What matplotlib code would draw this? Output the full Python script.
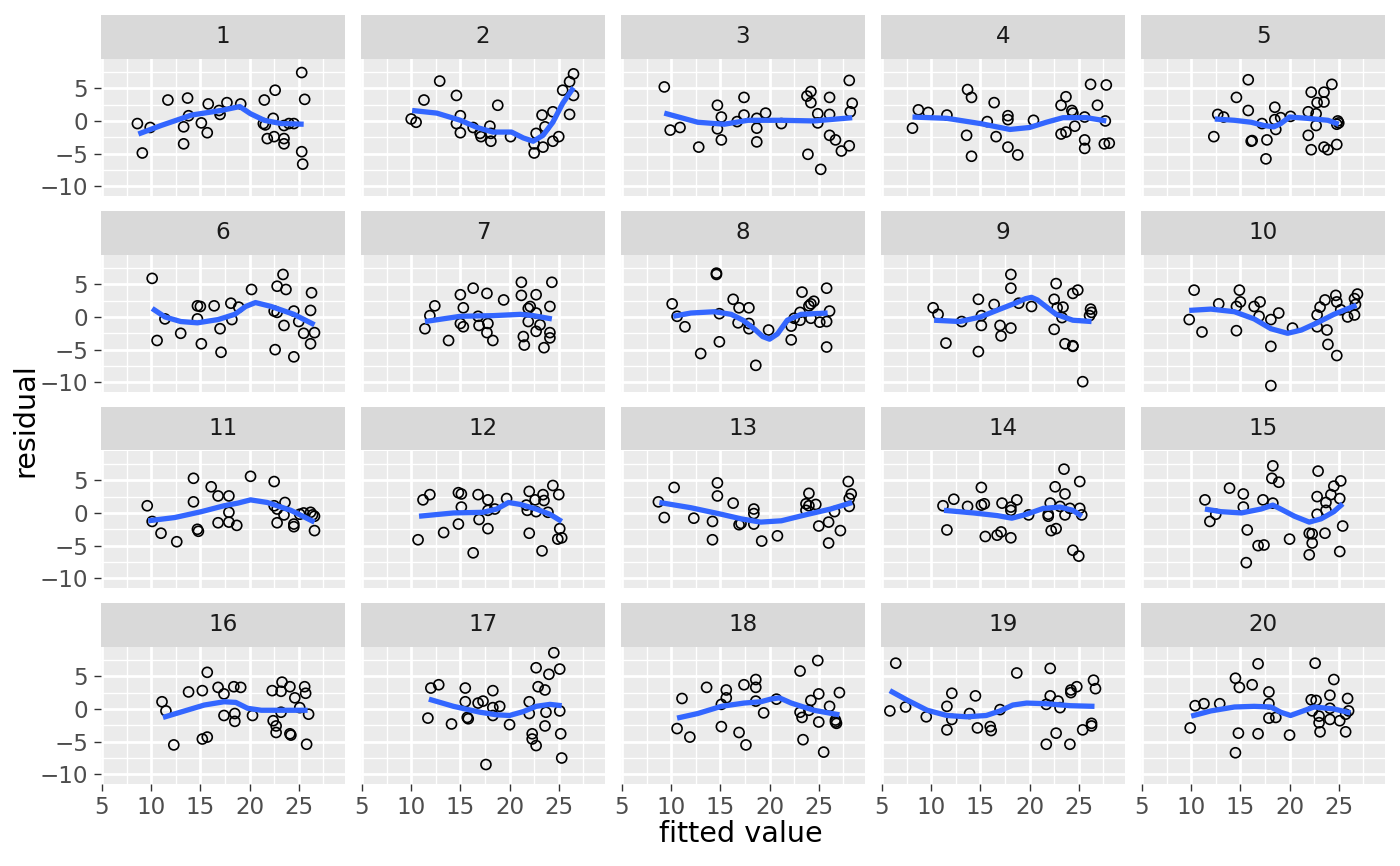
import matplotlib
matplotlib.use("Agg")
import matplotlib.pyplot as plt

# fitted / residual per panel
fit1 = [8.6, 9.1, 9.9, 11.7, 13.3, 13.3, 13.7, 13.8, 15.1, 15.7, 15.8, 16.9, 17.0, 17.7, 19.1, 21.5, 21.4, 21.8, 22.4, 22.6, 22.5, 23.5, 23.5, 23.5, 24.0, 24.5, 25.3, 25.6, 25.3, 25.4, 21.6]
res1 = [-0.4, -4.9, -1.0, 3.2, -0.9, -3.5, 3.5, 0.8, -0.3, -1.8, 2.6, 1.6, 1.0, 2.8, 2.6, 3.2, -0.4, -2.7, 0.4, 4.7, -2.4, -0.7, -2.7, -3.5, -0.4, -0.4, 7.4, 3.3, -4.7, -6.6, -0.6]
fit2 = [10.0, 10.5, 11.3, 12.9, 14.6, 15.0, 14.6, 15.0, 16.3, 17.0, 17.1, 18.0, 18.1, 18.1, 18.8, 20.1, 22.5, 22.5, 22.7, 23.3, 23.4, 23.6, 24.4, 24.4, 25.0, 25.4, 26.1, 26.5, 26.5, 26.1]
res2 = [0.3, -0.2, 3.2, 6.1, 3.9, 0.8, -0.4, -1.8, -1.0, -1.9, -2.4, -0.8, -1.9, -3.1, 2.4, -2.4, -3.5, -4.9, -1.9, 0.9, -4.0, -0.9, 1.4, -3.1, -2.4, 4.7, 6.0, 7.2, 3.9, 1.0]
fit3 = [9.3, 9.9, 10.9, 12.8, 14.7, 14.7, 15.1, 15.1, 16.7, 17.4, 17.4, 18.7, 18.7, 18.7, 19.6, 21.2, 23.8, 24.2, 24.2, 23.9, 24.9, 24.9, 25.2, 26.1, 26.1, 26.1, 26.7, 27.3, 28.1, 28.1, 28.4, 28.2]
res3 = [5.2, -1.4, -1.0, -4.0, 2.4, -1.2, 0.6, -2.9, -0.1, 3.6, 0.9, 0.4, -1.1, -3.2, 1.2, -0.4, 3.8, 4.5, 2.8, -5.1, 1.1, -0.3, -7.4, 3.6, 1.0, -2.2, -2.9, -4.6, -3.8, 6.2, 2.7, 1.4]
fit4 = [8.1, 8.7, 9.7, 11.6, 13.7, 14.1, 13.6, 14.1, 15.7, 16.4, 16.6, 17.8, 17.8, 17.8, 18.8, 20.4, 23.2, 23.7, 23.2, 23.7, 24.3, 24.4, 24.6, 25.6, 25.6, 25.6, 26.2, 26.9, 27.8, 27.7, 27.6, 28.1]
res4 = [-1.1, 1.7, 1.3, 0.9, 4.8, 3.6, -2.2, -5.4, -0.1, 2.8, -2.4, 0.8, 0.2, -4.0, -5.2, 0.1, 2.4, 3.7, -2.0, -1.7, 1.6, 1.2, -0.8, 0.6, -2.9, -4.2, 5.6, 2.4, 5.5, 0.0, -3.5, -3.4]
fit5 = [12.3, 12.7, 13.3, 14.6, 15.8, 15.8, 16.1, 16.2, 17.2, 17.7, 17.6, 18.5, 18.5, 18.6, 19.1, 20.1, 21.9, 21.9, 22.2, 22.2, 22.7, 22.8, 22.7, 23.5, 23.5, 23.5, 23.9, 24.3, 24.8, 24.9, 25.0, 24.8]
res5 = [-2.4, 1.0, 0.6, 3.6, 6.3, 1.6, -3.1, -3.0, -0.4, -2.9, -5.8, 2.1, 0.2, -1.3, 0.5, 0.7, 1.4, -2.2, 4.4, -4.4, 1.1, 2.8, -0.7, 2.9, 4.4, -4.0, -4.4, 5.6, -3.6, 0.0, -0.3, -0.5]
fit6 = [10.1, 11.4, 10.6, 13.0, 14.7, 15.0, 14.7, 15.1, 16.4, 17.0, 17.1, 18.1, 18.2, 18.9, 20.2, 22.5, 22.8, 22.8, 23.4, 23.7, 23.5, 22.6, 24.5, 24.5, 25.0, 25.5, 26.2, 26.3, 26.2, 26.6]
res6 = [5.9, -0.3, -3.6, -2.5, 1.7, 1.6, -0.3, -4.1, 1.7, -1.8, -5.4, 2.1, -0.4, 1.5, 4.2, 0.9, 0.7, 4.7, 6.5, 4.2, -1.3, -5.0, 0.9, -6.1, -0.7, -2.5, 1.0, 3.7, -4.1, -2.4]
fit7 = [11.4, 11.9, 12.4, 13.8, 15.0, 15.3, 15.0, 15.3, 16.3, 16.8, 16.9, 17.7, 17.8, 17.7, 18.3, 19.4, 21.2, 21.2, 21.4, 21.5, 21.9, 22.1, 21.9, 22.7, 22.7, 23.1, 22.7, 24.1, 24.3, 24.1, 24.1, 23.5]
res7 = [-1.8, 0.2, 1.7, -3.6, 3.4, 1.4, -1.0, -1.5, 4.4, 0.1, -1.3, 3.6, -1.0, -2.4, -3.6, 2.6, 5.3, 3.3, -3.0, -4.3, 1.3, 1.6, -0.7, 3.4, 0.6, -1.2, -2.2, 1.6, 5.3, -2.4, -3.2, -4.7]
fit8 = [10.1, 10.6, 11.4, 13.0, 14.6, 14.6, 14.9, 14.9, 16.3, 16.9, 16.8, 17.9, 17.9, 17.9, 18.6, 19.9, 22.2, 22.2, 22.5, 23.1, 23.1, 23.3, 24.0, 24.2, 24.5, 24.2, 25.1, 25.8, 26.1, 25.8, 25.8]
res8 = [2.0, 0.1, -1.5, -5.6, 6.7, 6.5, 0.5, -3.8, 2.7, 1.4, -0.9, 1.4, -1.0, -1.8, -7.4, -2.0, -3.5, -1.4, -0.2, -0.5, 0.7, 3.8, 1.7, 2.0, 2.4, -0.2, -0.8, 4.4, 0.9, -0.7, -4.6]
fit9 = [10.2, 10.7, 11.5, 13.1, 14.8, 15.1, 15.1, 14.8, 16.4, 17.0, 17.1, 18.1, 18.1, 18.1, 18.9, 20.2, 22.7, 22.5, 22.5, 22.8, 23.4, 23.3, 23.6, 24.4, 24.4, 24.4, 24.9, 25.4, 26.2, 26.3, 26.1]
res9 = [1.4, 0.4, -4.0, -0.7, 2.7, 0.2, -1.3, -5.3, 1.9, -1.3, -2.9, 6.5, 4.4, -1.7, 2.1, 1.6, 5.1, 2.7, -1.9, 1.4, 1.5, -0.1, -4.1, -4.4, -4.5, 3.6, 4.1, -9.9, 1.2, 0.7, 0.2]
fit10 = [9.8, 10.3, 11.1, 12.8, 14.6, 15.0, 14.9, 14.6, 16.4, 17.0, 16.9, 18.1, 18.9, 18.1, 18.1, 20.3, 22.8, 22.8, 23.1, 23.6, 23.8, 23.9, 24.8, 24.7, 24.8, 25.2, 25.9, 26.6, 26.6, 26.9, 26.7]
res10 = [-0.4, 4.1, -2.3, 2.0, 1.6, 2.3, 4.1, -2.1, 1.6, 2.3, 0.1, -0.4, 0.6, -4.5, -10.5, -1.7, 0.3, -1.5, 1.5, 2.6, -2.0, -4.2, -5.9, 3.3, 2.3, 1.1, 0.0, 0.3, 2.8, 3.5, 1.9]
fit11 = [9.6, 10.1, 11.0, 12.6, 14.3, 14.3, 14.7, 14.8, 16.1, 16.8, 16.8, 17.9, 17.9, 17.9, 18.7, 20.1, 22.5, 22.5, 22.8, 23.6, 23.5, 22.8, 24.5, 24.5, 25.1, 25.5, 26.2, 26.4, 26.6, 26.6]
res11 = [1.1, -1.3, -3.1, -4.4, 5.3, 1.7, -2.5, -2.8, 4.0, 2.6, -1.5, 2.6, 0.1, -1.4, -1.9, 5.6, 4.8, 1.1, 0.6, 1.6, -0.3, -1.5, -1.7, -2.1, -0.2, 0.0, 0.1, -0.3, -0.5, -2.7]
fit12 = [10.7, 11.2, 11.9, 13.3, 14.8, 15.1, 15.1, 14.8, 16.3, 16.8, 16.9, 17.8, 17.8, 17.8, 18.5, 19.7, 22.0, 21.7, 21.8, 22.0, 22.6, 22.7, 23.4, 23.5, 23.3, 23.9, 24.4, 25.0, 25.1, 24.9, 25.3]
res12 = [-4.1, 2.0, 2.8, -3.0, 3.1, 2.9, 0.9, -1.7, -6.1, 2.8, -1.0, 2.0, 0.4, -2.4, 0.6, 2.2, 3.3, 1.2, 0.4, -3.1, 2.0, 0.2, 2.8, 1.9, -5.8, 0.1, 4.2, 2.8, -2.4, -4.0, -3.8]
fit13 = [8.7, 9.3, 10.3, 12.3, 14.2, 14.2, 14.7, 14.7, 16.3, 16.9, 17.1, 18.4, 18.4, 18.4, 19.2, 20.8, 23.7, 24.0, 24.0, 23.7, 24.7, 25.0, 26.0, 26.0, 26.6, 27.2, 28.0, 28.3, 28.1, 28.1]
res13 = [1.7, -0.7, 3.9, -0.8, -1.3, -4.1, 4.6, 2.6, 1.5, -1.8, -1.6, 0.6, -0.1, -1.7, -4.3, -3.5, 1.4, 3.0, 1.1, 0.4, 1.3, -2.0, -1.4, -4.6, 0.2, -2.7, 4.8, 2.9, 2.2, 1.0]
fit14 = [11.2, 11.6, 12.3, 13.7, 15.1, 15.1, 15.4, 15.5, 16.7, 17.1, 17.2, 18.1, 18.1, 18.1, 18.7, 19.9, 22.1, 21.9, 21.9, 22.2, 22.7, 22.6, 23.5, 23.6, 23.1, 23.6, 24.1, 25.1, 25.1, 25.3, 24.4, 25.0]
res14 = [1.1, -2.6, 2.1, 1.0, 3.9, 1.2, 1.4, -3.6, -3.4, -2.9, 1.5, 0.9, 0.4, -3.8, 2.0, -0.3, 1.5, -0.2, -0.5, -2.7, -2.4, 4.0, 6.7, 2.9, 1.0, -0.3, 0.7, 4.8, 0.7, -0.3, -5.7, -6.6]
fit15 = [11.4, 11.9, 12.5, 13.9, 15.3, 15.3, 15.7, 16.8, 17.4, 17.3, 18.3, 18.2, 18.9, 18.3, 15.6, 20.0, 22.0, 22.3, 22.3, 22.0, 22.8, 22.9, 22.8, 23.7, 23.7, 23.6, 24.2, 24.5, 25.2, 25.1, 25.4, 25.1]
res15 = [2.0, -1.3, -0.2, 3.8, 2.9, 0.9, -2.6, -5.0, -4.9, 2.0, 7.2, 5.3, 4.7, 1.5, -7.6, -4.0, -3.1, -3.2, -4.6, -6.4, -0.2, 6.4, 2.5, 1.6, 0.4, -3.1, 2.8, 4.1, 4.9, 2.2, -2.0, -5.9]
fit16 = [11.1, 11.5, 12.3, 13.8, 15.2, 15.2, 15.7, 15.7, 16.8, 17.4, 17.4, 18.4, 19.1, 18.5, 18.5, 20.3, 22.3, 22.4, 22.7, 22.7, 23.2, 23.3, 23.2, 24.1, 24.1, 24.2, 24.6, 25.1, 25.6, 25.7, 26.0, 25.8]
res16 = [1.1, -0.3, -5.5, 2.6, 2.8, -4.6, -4.3, 5.6, 3.3, 2.3, -1.0, 3.4, 3.3, -0.7, -1.9, -1.0, 2.8, -1.8, -2.6, -3.6, 2.7, 4.1, -0.5, 3.4, -3.8, -4.0, 1.7, 0.2, 3.4, 2.4, -0.8, -5.4]
fit17 = [11.7, 12.0, 12.8, 14.1, 15.5, 15.5, 15.7, 15.8, 16.8, 17.3, 17.6, 18.3, 18.3, 18.3, 19.0, 20.0, 22.0, 22.0, 22.3, 22.3, 22.7, 22.7, 22.9, 23.6, 23.6, 23.7, 24.0, 24.5, 25.1, 25.1, 25.2, 25.3]
res17 = [-1.4, 3.2, 3.7, -2.3, 3.2, 1.1, -1.3, -1.5, 0.9, 1.2, -8.5, 2.8, -1.0, 0.2, 0.4, -2.4, 1.1, -0.7, -3.8, -4.6, -5.6, 6.3, 3.4, 2.9, -2.6, -0.5, 5.3, 8.6, 6.1, -0.3, -3.8, -7.5]
fit18 = [10.6, 11.1, 11.9, 13.6, 15.1, 15.1, 15.6, 15.6, 16.9, 17.6, 17.4, 18.6, 18.6, 18.6, 19.4, 20.7, 23.1, 23.1, 23.3, 23.4, 24.0, 24.2, 24.9, 25.0, 25.0, 25.5, 26.1, 26.7, 26.8, 27.1, 26.7]
res18 = [-3.0, 1.6, -4.3, 3.3, -2.7, 0.7, 1.7, 2.9, -3.6, -5.5, 3.7, 4.5, 3.3, 1.2, -0.6, 1.5, 5.8, -0.5, -1.3, -4.7, -0.2, 1.3, 7.4, 2.3, -2.0, -6.6, 0.4, -1.7, -2.2, 2.5, -2.0]
fit19 = [5.8, 6.4, 7.4, 9.5, 11.6, 12.1, 12.1, 11.6, 13.9, 14.5, 14.7, 16.0, 16.1, 17.0, 18.7, 21.7, 22.1, 22.1, 21.7, 22.7, 22.9, 23.1, 24.1, 24.2, 24.2, 24.8, 25.4, 26.3, 26.3, 26.5, 26.7]
res19 = [-0.3, 7.0, 0.3, -1.2, 0.4, 2.4, -1.6, -3.2, -0.7, 2.0, -2.9, -2.7, -3.3, -0.1, 5.5, 0.7, 6.2, 2.0, -5.4, -3.7, 1.2, 0.2, -5.4, 2.9, 2.5, 3.4, -3.2, -2.2, -2.6, 4.4, 3.1]
fit20 = [9.9, 10.4, 11.3, 12.9, 14.5, 14.9, 14.8, 14.5, 16.2, 16.8, 16.8, 17.9, 17.9, 17.9, 18.6, 20.0, 22.6, 22.2, 22.7, 22.3, 23.0, 23.0, 23.1, 24.1, 24.5, 24.1, 24.1, 25.1, 25.9, 26.0, 25.7, 25.7]
res20 = [-2.9, 0.5, 0.8, 0.8, 4.7, 3.3, -3.7, -6.7, 3.7, 6.9, -3.8, 2.6, 0.8, -1.4, -1.3, -4.0, 7.0, 1.4, 1.3, -0.3, -1.1, -2.1, -3.5, 2.1, 4.5, -1.6, 0.1, -1.8, 1.6, -0.3, -0.8, -3.5]

# loess curves
sx1 = [8.7, 11.0, 14.1, 17.1, 19.0, 20.1, 21.5, 23.2, 25.5]
sy1 = [-2.0, -0.7, 0.9, 1.6, 2.2, 1.1, 0.1, -0.4, -0.5]
sx2 = [10.1, 12.6, 15.0, 16.7, 18.3, 20.2, 21.4, 22.4, 23.4, 24.4, 25.4, 26.5]
sy2 = [1.6, 1.2, 0.1, -1.0, -1.7, -1.7, -2.6, -3.1, -2.2, -0.2, 2.7, 5.1]
sx3 = [9.3, 12.7, 15.4, 17.8, 21.2, 24.5, 28.4]
sy3 = [1.2, -0.2, -0.5, 0.1, 0.1, 0.0, 0.5]
sx4 = [8.1, 11.6, 15.0, 18.0, 20.0, 21.7, 23.4, 25.8, 27.8]
sy4 = [0.6, 0.4, -0.4, -1.3, -1.0, -0.2, 0.5, 0.5, 0.0]
sx5 = [12.4, 14.4, 16.1, 17.4, 18.4, 19.1, 20.0, 21.8, 23.9, 25.0]
sy5 = [0.3, 0.1, -0.2, -0.7, -0.9, -0.4, 0.6, 0.4, 0.1, -0.5]
sx6 = [10.1, 11.4, 13.0, 14.7, 16.8, 18.5, 19.6, 20.6, 22.2, 24.5, 26.6]
sy6 = [1.3, 0.0, -0.7, -0.9, -0.4, 0.4, 1.6, 2.2, 1.6, 0.4, -1.2]
sx7 = [11.4, 15.0, 18.3, 21.1, 22.4, 24.3]
sy7 = [-0.7, 0.1, 0.2, 0.4, 0.2, -0.3]
sx8 = [10.2, 12.0, 14.4, 16.1, 17.3, 18.5, 19.3, 20.0, 20.8, 21.8, 23.2, 25.9]
sy8 = [0.1, 0.6, 0.8, 0.4, -0.5, -1.9, -3.0, -3.4, -2.6, -0.5, 0.4, 0.6]
sx9 = [10.3, 12.9, 15.0, 17.0, 18.7, 19.6, 20.2, 20.8, 21.4, 22.7, 24.4, 26.3]
sy9 = [-0.5, -0.7, 0.0, 1.2, 2.2, 2.8, 3.0, 2.6, 1.9, 0.4, -0.5, -0.7]
sx10 = [9.8, 12.0, 14.4, 16.4, 18.1, 19.8, 21.2, 22.8, 24.5, 26.8]
sy10 = [1.0, 1.2, 0.8, -0.3, -1.8, -2.5, -2.0, -0.9, 0.4, 1.8]
sx11 = [9.7, 12.4, 15.1, 17.4, 18.8, 20.1, 21.8, 24.2, 26.6]
sy11 = [-1.2, -0.7, 0.2, 1.1, 1.5, 2.0, 1.6, 0.4, -1.4]
sx12 = [10.8, 14.3, 17.3, 18.7, 19.9, 21.1, 22.7, 24.1, 25.3]
sy12 = [-0.5, 0.0, 0.1, 0.6, 1.6, 1.3, 0.6, -0.2, -1.3]
sx13 = [8.8, 12.0, 15.1, 17.1, 19.1, 21.2, 23.9, 26.2, 28.4]
sy13 = [1.6, 0.8, -0.2, -0.9, -1.4, -1.2, -0.2, 0.6, 1.6]
sx14 = [11.3, 14.3, 16.7, 18.2, 19.7, 21.4, 23.1, 24.4, 25.3]
sy14 = [0.4, 0.0, -0.4, -0.8, -0.2, 0.7, 0.9, 0.4, -0.5]
sx15 = [11.4, 13.0, 15.1, 17.1, 18.3, 19.1, 20.5, 22.0, 23.2, 24.5, 25.4]
sy15 = [0.6, 0.2, 0.0, 0.6, 1.2, 0.6, -0.5, -1.4, -0.9, 0.2, 1.4]
sx16 = [11.2, 13.4, 15.4, 17.4, 18.6, 19.8, 21.2, 23.5, 25.9]
sy16 = [-1.3, -0.3, 0.6, 1.1, 1.0, 0.1, -0.2, -0.2, -0.2]
sx17 = [11.8, 14.3, 17.0, 18.7, 20.0, 21.4, 22.7, 24.1, 25.3]
sy17 = [1.5, 0.4, -0.5, -0.9, -1.0, -0.4, 0.4, 0.7, 0.5]
sx18 = [10.6, 12.7, 15.1, 17.4, 19.1, 20.1, 21.0, 22.2, 24.5, 27.1]
sy18 = [-1.4, -0.7, 0.4, 0.9, 1.1, 1.5, 1.7, 0.9, -0.2, -0.9]
sx19 = [5.8, 7.5, 9.6, 11.6, 13.6, 15.6, 17.0, 18.3, 19.7, 21.7, 24.1, 26.6]
sy19 = [2.8, 1.4, -0.2, -1.0, -1.2, -1.0, -0.3, 0.6, 0.9, 0.8, 0.5, 0.4]
sx20 = [10.0, 12.0, 14.4, 16.4, 18.1, 19.1, 20.1, 21.2, 22.5, 24.5, 26.2]
sy20 = [-1.1, -0.3, 0.3, 0.4, 0.3, -0.5, -1.0, -0.4, 0.3, 0.0, -0.6]

fits = [fit1, fit2, fit3, fit4, fit5, fit6, fit7, fit8, fit9, fit10,
        fit11, fit12, fit13, fit14, fit15, fit16, fit17, fit18, fit19, fit20]
resids = [res1, res2, res3, res4, res5, res6, res7, res8, res9, res10,
          res11, res12, res13, res14, res15, res16, res17, res18, res19, res20]
smx = [sx1, sx2, sx3, sx4, sx5, sx6, sx7, sx8, sx9, sx10,
       sx11, sx12, sx13, sx14, sx15, sx16, sx17, sx18, sx19, sx20]
smy = [sy1, sy2, sy3, sy4, sy5, sy6, sy7, sy8, sy9, sy10,
       sy11, sy12, sy13, sy14, sy15, sy16, sy17, sy18, sy19, sy20]
labels = [str(i) for i in range(1, 21)]

xticks = [5, 10, 15, 20, 25]
yticks = [-10, -5, 0, 5]

W, H = 1400, 866
fig = plt.figure(figsize=(7, 4.33), dpi=200)


def rect(x, y, w, h):
    return [x / W, 1 - (y + h) / H, w / W, h / H]


col_left = [101, 361, 621, 881, 1141]
pw, ph = 244, 137
sh = 44

for i in range(20):
    r, c = divmod(i, 5)
    top = 58.5 + 196 * r
    ax = fig.add_axes(rect(col_left[c], top, pw, ph))
    ax.set_facecolor("#EBEBEB")
    for s in ax.spines.values():
        s.set_visible(False)
    ax.set_xlim(4.9, 29.7)
    ax.set_ylim(-11.4, 9.55)
    ax.set_xticks(xticks)
    ax.set_yticks(yticks)
    ax.set_xticks([7.5, 12.5, 17.5, 22.5, 27.5], minor=True)
    ax.set_yticks([-7.5, -2.5, 2.5, 7.5], minor=True)
    ax.grid(True, which="major", color="white", lw=1.0)
    ax.grid(True, which="minor", color="white", lw=0.5)
    ax.set_axisbelow(True)
    ax.tick_params(which="minor", length=0)
    ax.tick_params(which="major", length=2.6, width=0.5, color="#333333",
                   labelsize=8.3, labelcolor="#4D4D4D", pad=2.0)
    if c != 0:
        ax.tick_params(axis="y", length=0, labelleft=False)
    if r != 3:
        ax.tick_params(axis="x", length=0, labelbottom=False)

    ax.scatter(fits[i], resids[i], s=3.6 ** 2, facecolors="none",
               edgecolors="black", linewidths=0.6, zorder=3)
    ax.plot(smx[i], smy[i], color="#3366FF", lw=1.9, solid_capstyle="butt",
            solid_joinstyle="round", zorder=4)

    sax = fig.add_axes(rect(col_left[c], top - sh, pw, sh))
    sax.set_facecolor("#D9D9D9")
    sax.set_xticks([])
    sax.set_yticks([])
    for s in sax.spines.values():
        s.set_visible(False)
    sax.text(0.5, 0.5, labels[i], ha="center", va="center",
             fontsize=8.3, color="#1A1A1A", transform=sax.transAxes)

fig.text(741 / W, 1 - 834 / H, "fitted value", ha="center", va="center",
         fontsize=10.3, color="black")
fig.text(25 / W, 1 - 420 / H, "residual", ha="center", va="center",
         rotation=90, fontsize=10.3, color="black")

fig.savefig("out.png", dpi=200, facecolor="white")
